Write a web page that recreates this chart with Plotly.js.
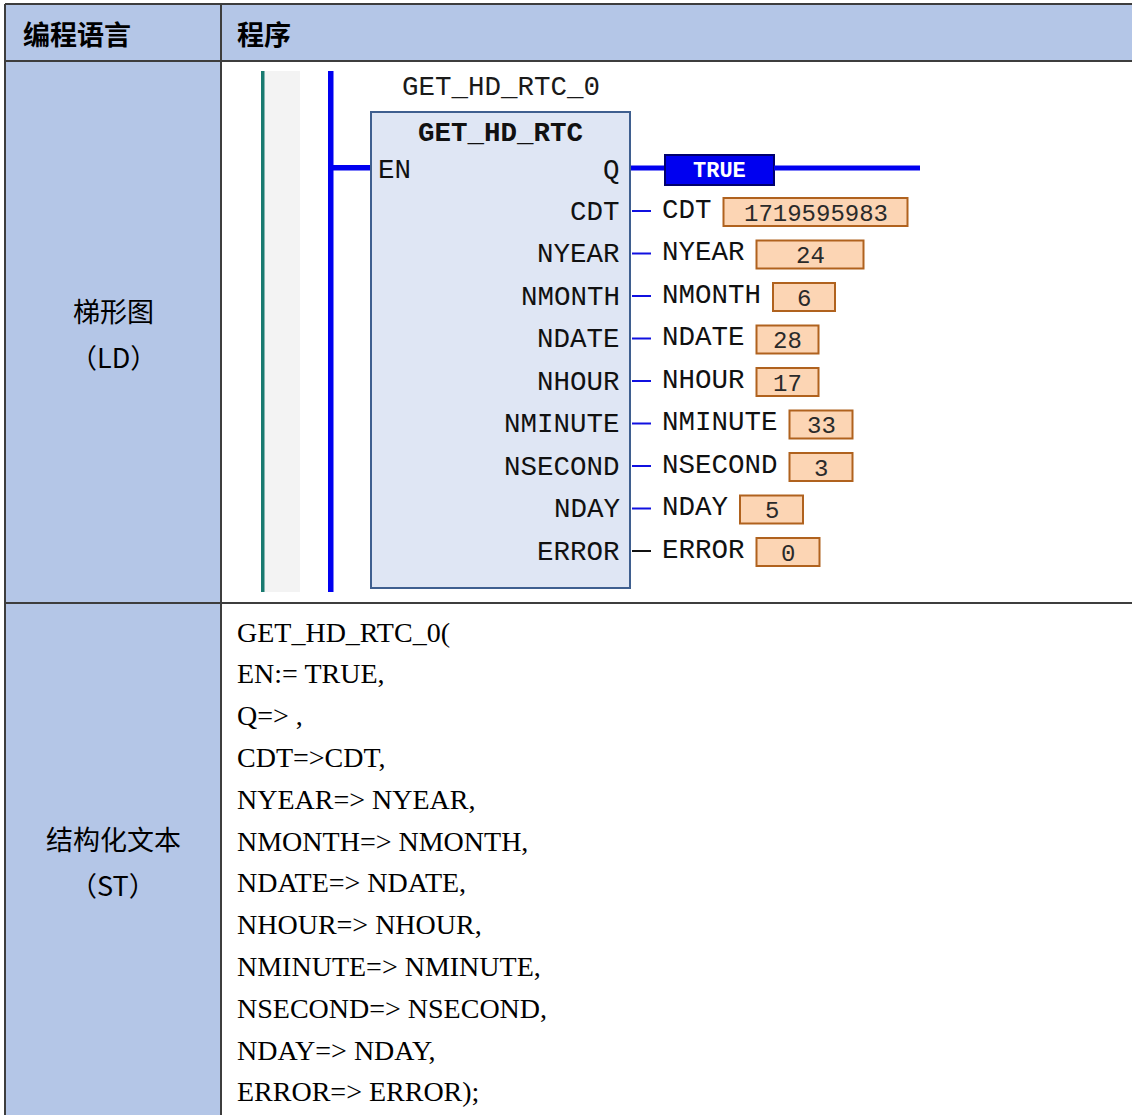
<!DOCTYPE html>
<html>
<head>
<meta charset="utf-8">
<script src="https://cdn.plot.ly/plotly-3.0.1.min.js"></script>
<style>
html,body{margin:0;padding:0;background:#fff;}
#chart{width:1132px;height:1115px;}
</style>
</head>
<body>
<div id="chart"></div>
<script>
// ---- data ----
const headerLabels = ['编程语言', '程序'];
const ldLabel = ['梯形图', '（LD）'];
const stLabel = ['结构化文本', '（ST）'];
const blockInstance = 'GET_HD_RTC_0';
const blockType = 'GET_HD_RTC';
const inputPin = 'EN';
const outputPin = 'Q';
const outputValue = 'TRUE';
const pinNames = ['CDT', 'NYEAR', 'NMONTH', 'NDATE', 'NHOUR', 'NMINUTE', 'NSECOND', 'NDAY', 'ERROR'];
const pinVars = ['CDT', 'NYEAR', 'NMONTH', 'NDATE', 'NHOUR', 'NMINUTE', 'NSECOND', 'NDAY', 'ERROR'];
const pinValues = ['1719595983', '24', '6', '28', '17', '33', '3', '5', '0'];
const stLines = [
  'GET_HD_RTC_0(',
  'EN:= TRUE,',
  'Q=> ,',
  'CDT=>CDT,',
  'NYEAR=> NYEAR,',
  'NMONTH=> NMONTH,',
  'NDATE=> NDATE,',
  'NHOUR=> NHOUR,',
  'NMINUTE=> NMINUTE,',
  'NSECOND=> NSECOND,',
  'NDAY=> NDAY,',
  'ERROR=> ERROR);'
];

// ---- geometry & style (not data) ----
const W = 1132, H = 1115;
const valueBoxWidths = [184, 107, 62, 62, 62, 63, 63, 63, 63];
const wireColors = ['#1010e0','#1010e0','#1010e0','#1010e0','#1010e0','#1010e0','#1010e0','#1010e0','#111111'];
const tbl = {left: 5, top: 4, col: 221, head: 61, row1: 603, border: '#3d3d3d', fill: '#b4c6e7'};
const lad = {top: 71, bottom: 592, boxL: 371, boxR: 630, boxT: 112, boxB: 588, pin0: 212, pinStep: 42.5,
             varX: 660, charW: 16.5, gap: 14, boxH: 28};
const MONO = 'Liberation Mono, DejaVu Sans Mono, monospace';
const SERIF = 'Liberation Serif, Times New Roman, serif';
const CJK = 'Noto Sans CJK SC, sans-serif';
const MS = 27.5; // mono font size

const shapes = [];
const ann = [];
function rect(x0, y0, x1, y1, fill, lineColor, lw) {
  shapes.push({type: 'rect', xref: 'x', yref: 'y', x0, y0, x1, y1, fillcolor: fill,
    line: {color: lineColor || fill, width: lw === undefined ? 0 : lw}, layer: 'above'});
}
function line(x0, y0, x1, y1, color, width) {
  shapes.push({type: 'line', xref: 'x', yref: 'y', x0, y0, x1, y1, line: {color, width}, layer: 'above'});
}
function text(t, x, y, size, opts) {
  opts = opts || {};
  ann.push({text: t, x, y, xref: 'x', yref: 'y', showarrow: false,
    xanchor: opts.xanchor || 'left', yanchor: 'middle',
    font: {family: opts.family || MONO, size, color: opts.color || '#111', weight: opts.weight || 'normal'}});
}

// table fills
rect(tbl.left, tbl.top, W + 10, tbl.head, tbl.fill);
rect(tbl.left, tbl.head, tbl.col, H + 10, tbl.fill);
// table borders
line(tbl.left, tbl.top, W + 10, tbl.top, tbl.border, 2);
line(tbl.left, tbl.head, W + 10, tbl.head, tbl.border, 2);
line(tbl.left, tbl.row1, W + 10, tbl.row1, tbl.border, 2);
line(tbl.left, tbl.top, tbl.left, H + 10, tbl.border, 2);
line(tbl.col, tbl.top, tbl.col, H + 10, tbl.border, 2);

// header text
text(headerLabels[0], 21, 33, 27, {family: CJK, weight: 'bold', color: '#000'});
text(headerLabels[1], 235, 33, 27, {family: CJK, weight: 'bold', color: '#000'});
// row labels
text(ldLabel[0], 113, 310, 27, {family: CJK, xanchor: 'center', color: '#000'});
text(ldLabel[1], 113, 356, 27, {family: CJK, xanchor: 'center', color: '#000'});
text(stLabel[0], 113, 838, 27, {family: CJK, xanchor: 'center', color: '#000'});
text(stLabel[1], 113, 884, 27, {family: CJK, xanchor: 'center', color: '#000'});

// ladder rails
rect(264, lad.top, 300, lad.bottom, '#f3f3f3');
rect(261, lad.top, 264.5, lad.bottom, '#187a70');
rect(328, lad.top, 333.5, lad.bottom, '#0000f0');
// EN wire
rect(333, 165, lad.boxL, 170.5, '#0000f0');
// function block
rect(lad.boxL, lad.boxT, lad.boxR, lad.boxB, '#dfe6f4', '#3f5f8f', 2);
text(blockInstance, (lad.boxL + lad.boxR) / 2, 87, MS, {xanchor: 'center', color: '#1a1a1a'});
text(blockType, (lad.boxL + lad.boxR) / 2, 133, MS, {xanchor: 'center', weight: 'bold', color: '#111'});
text(inputPin, 376, 170, MS, {color: '#111'});
text(outputPin, 622, 170, MS, {xanchor: 'right', color: '#111'});
// Q output wire & TRUE box
rect(lad.boxR + 1, 165.5, 665, 170.5, '#0000f0');
rect(665, 155, 774, 185, '#0000f0', '#00006e', 2);
rect(774, 165.5, 920, 170.5, '#0000f0');
text(outputValue, 719.5, 171, 22, {xanchor: 'center', weight: 'bold', color: '#ffffff'});

// output pins
pinNames.forEach((nm, i) => {
  const y = lad.pin0 + i * lad.pinStep;
  text(nm, 622, y, MS, {xanchor: 'right', color: '#111'});
  line(lad.boxR + 2, y - 1, 651, y - 1, wireColors[i], 2);
  text(pinVars[i], lad.varX, y - 2, MS, {color: '#111'});
  const bx = lad.varX + pinVars[i].length * lad.charW + lad.gap;
  rect(bx, y - lad.boxH / 2, bx + valueBoxWidths[i], y + lad.boxH / 2, '#fcd5b4', '#b0621e', 2);
  text(pinValues[i], bx + valueBoxWidths[i] / 2, y + 2, 24, {xanchor: 'center', color: '#2a2a2a'});
});

// ST code
stLines.forEach((s, i) => {
  text(s, 235, 632 + i * 41.8, 28, {family: SERIF, color: '#000'});
});

const layout = {
  width: W, height: H,
  margin: {l: 0, r: 0, t: 0, b: 0, pad: 0},
  paper_bgcolor: '#ffffff', plot_bgcolor: '#ffffff',
  xaxis: {range: [0, W], visible: false, fixedrange: true},
  yaxis: {range: [H, 0], visible: false, fixedrange: true},
  showlegend: false,
  shapes: shapes,
  annotations: ann
};
Plotly.newPlot('chart', [], layout, {staticPlot: true, displayModeBar: false});
</script>
</body>
</html>
